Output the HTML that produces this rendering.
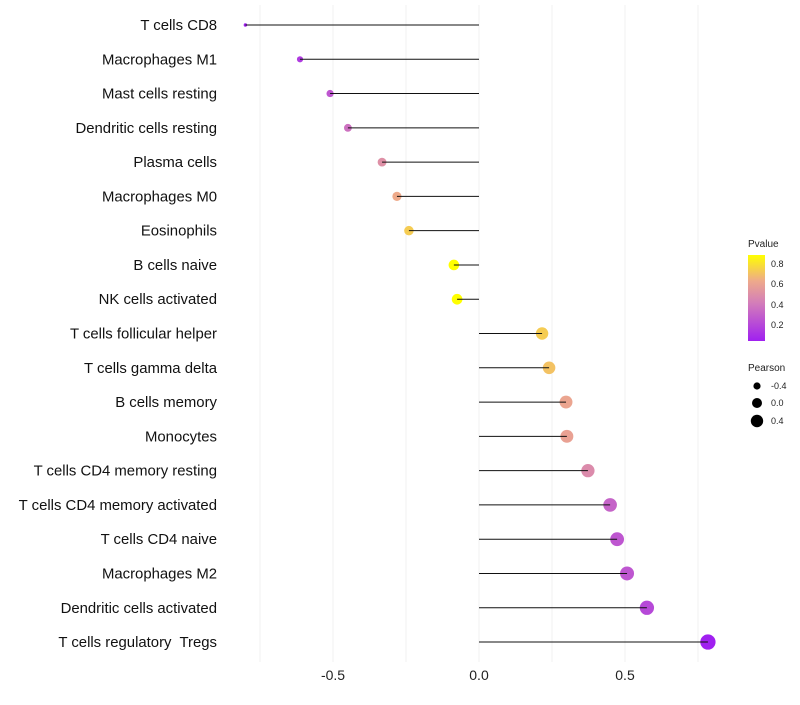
<!DOCTYPE html>
<html><head><meta charset="utf-8"><style>
body{margin:0;background:#fff;font-family:"Liberation Sans",sans-serif}
</style></head><body>
<svg id="c" width="800" height="700" xmlns="http://www.w3.org/2000/svg">
<defs><linearGradient id="pg" x1="0" y1="1" x2="0" y2="0">
<stop offset="0" stop-color="#a020f0"/><stop offset="0.45" stop-color="#d47fb8"/><stop offset="0.7" stop-color="#eeaa8a"/><stop offset="1" stop-color="#ffff00"/></linearGradient></defs>
<g id="grid"></g><g id="marks"></g><g id="labels"></g>
<g font-size="9" fill="#222">
<text x="748" y="247" font-size="10">Pvalue</text>
<rect x="748" y="255" width="17" height="86" fill="url(#pg)"/>
<text x="771" y="267">0.8</text><text x="771" y="287">0.6</text><text x="771" y="308">0.4</text><text x="771" y="328">0.2</text>
<text x="748" y="371" font-size="10">Pearson</text>
<circle cx="757" cy="386" r="3.6" fill="#000"/><text x="771" y="389">-0.4</text>
<circle cx="757" cy="403" r="5" fill="#000"/><text x="771" y="406">0.0</text>
<circle cx="757" cy="421" r="6.2" fill="#000"/><text x="771" y="424">0.4</text>
</g>
</svg>
<script>
const categories=["T cells CD8","Macrophages M1","Mast cells resting","Dendritic cells resting","Plasma cells","Macrophages M0","Eosinophils","B cells naive","NK cells activated","T cells follicular helper","T cells gamma delta","B cells memory","Monocytes","T cells CD4 memory resting","T cells CD4 memory activated","T cells CD4 naive","Macrophages M2","Dendritic cells activated","T cells regulatory  Tregs"];
const pearson=[-0.80,-0.613,-0.51,-0.449,-0.332,-0.281,-0.24,-0.086,-0.075,0.216,0.24,0.298,0.301,0.373,0.449,0.473,0.507,0.575,0.784];
const pvalue=[0.02,0.15,0.25,0.35,0.5,0.65,0.75,0.9,0.9,0.75,0.72,0.62,0.6,0.47,0.3,0.25,0.25,0.2,0.03];
const xTicks=[-0.5,0,0.5];
const xTickLabels=["-0.5","0.0","0.5"];
const NS="http://www.w3.org/2000/svg";
const xs=v=>479+v*292;
const ys=i=>25+i*34.28;
function col(p){
 const st=[[0.05,[160,32,240]],[0.4,[212,127,184]],[0.65,[238,170,138]],[0.9,[255,255,0]]];
 p=Math.max(0.05,Math.min(0.9,p));
 for(let k=0;k<st.length-1;k++){const a=st[k],b=st[k+1];if(p<=b[0]){const t=(p-a[0])/(b[0]-a[0]);return "rgb("+a[1].map((c,j)=>Math.round(c+(b[1][j]-c)*t)).join(",")+")";}}
 return "rgb(255,255,0)";}
function mk(t,a,p){const e=document.createElementNS(NS,t);for(const k in a)e.setAttribute(k,a[k]);p.appendChild(e);return e;}
const g=document.getElementById('grid'),m=document.getElementById('marks'),l=document.getElementById('labels');
[-0.75,-0.5,-0.25,0,0.25,0.5,0.75].forEach(v=>{const e=mk('line',{x1:xs(v),x2:xs(v),y1:5,y2:662,stroke:'#f0f0f0','stroke-width':1},g);

});
xTicks.forEach((v,i)=>{const t=mk('text',{x:xs(v),y:680,'text-anchor':'middle','font-size':14,fill:'#222'},l);t.textContent=xTickLabels[i];

});
categories.forEach((c,i)=>{const y=ys(i);
 const t=mk('text',{x:217,y:y+5,'text-anchor':'end','font-size':14.9,fill:'#111',style:'white-space:pre'},l);t.textContent=c;
 
 
 const r=Math.sqrt(Math.max(2.25,31+35*pearson[i]));
 const d=mk('circle',{cx:xs(pearson[i]),cy:y,r:r,fill:col(pvalue[i])},m);
 
 
 const ln=mk('line',{x1:xs(0),x2:xs(pearson[i]),y1:y,y2:y,stroke:'#111','stroke-width':1},m);
 
 
});
</script>
</body></html>
